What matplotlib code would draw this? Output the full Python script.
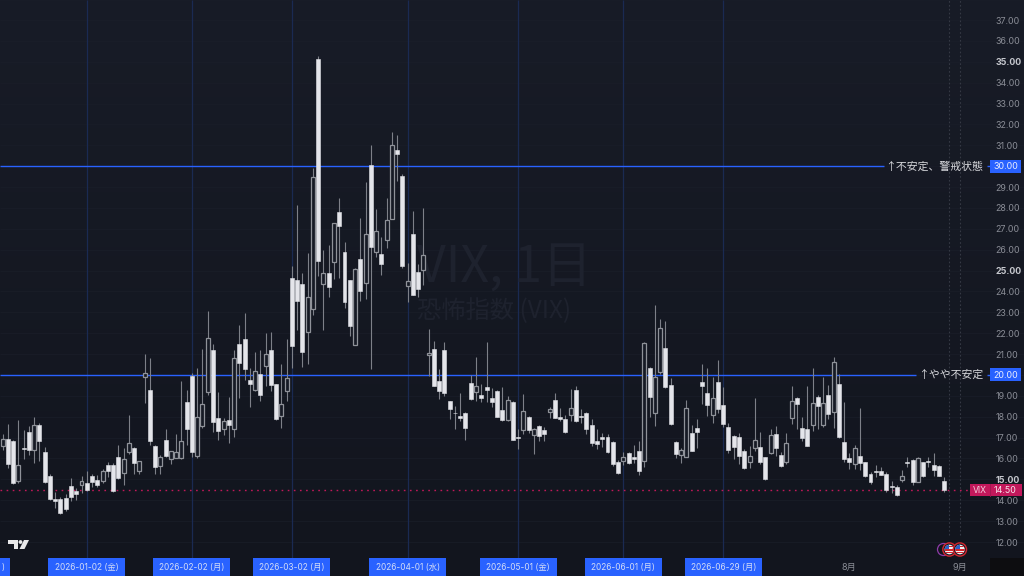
#!/usr/bin/env python3
# VIX daily candles, TradingView dark layout

import numpy as np
import matplotlib
matplotlib.use("Agg")
import matplotlib.pyplot as plt
from matplotlib.patches import Circle, Polygon, Rectangle

plt.rcParams['font.family'] = ['Inter', 'Noto Sans CJK JP', 'DejaVu Sans']
CJK = ['Noto Sans CJK JP', 'DejaVu Sans']

opens = [16.61, 16.93, 16.83, 14.93, 16.50, 17.26, 16.43, 17.58, 16.29, 15.14,
         14.07, 14.07, 14.10, 14.68, 14.44, 14.74, 14.81, 15.14, 14.98, 14.90,
         15.67, 15.67, 16.05, 15.32, 16.29, 16.50, 15.41, 19.88, 19.29, 16.61,
         15.65, 16.87, 15.97, 16.04, 16.00, 18.70, 19.93, 16.14, 17.57, 19.20,
         21.21, 17.94, 17.43, 17.85, 17.41, 21.47, 21.71, 19.78, 19.28, 20.03,
         20.45, 21.21, 19.57, 18.05, 19.25, 24.63, 24.55, 24.37, 22.07, 23.18,
         35.11, 24.36, 24.87, 25.43, 27.82, 25.87, 24.53, 21.45, 25.57, 24.42,
         30.04, 25.89, 25.78, 26.46, 27.48, 30.76, 29.51, 24.28, 26.75, 24.91,
         25.04, 20.95, 21.26, 19.72, 21.19, 18.73, 18.19, 18.05, 18.19, 19.60,
         19.18, 19.05, 19.44, 18.91, 19.24, 18.30, 17.84, 18.70, 17.03, 17.36,
         17.97, 17.14, 17.54, 17.38, 18.22, 18.78, 17.98, 17.87, 18.06, 19.26,
         18.05, 18.19, 17.58, 16.85, 17.03, 17.03, 16.77, 15.81, 15.88, 16.28,
         16.05, 16.34, 15.88, 20.33, 18.17, 20.12, 21.27, 19.52, 16.80, 16.18,
         16.06, 17.21, 17.45, 19.65, 19.13, 18.09, 19.68, 18.58, 17.53, 17.08,
         17.02, 16.38, 15.85, 16.52, 16.56, 16.06, 16.28, 17.19, 16.16, 15.81,
         17.96, 18.90, 17.47, 17.40, 17.62, 18.93, 17.58, 19.05, 18.25, 19.56,
         16.81, 16.03, 15.73, 16.14, 15.82, 15.28, 15.42, 15.41, 15.26, 14.69,
         14.64, 14.96, 15.84, 15.92, 14.88, 15.82, 15.89, 15.69, 15.63, 14.93]

highs = [17.17, 17.65, 16.88, 17.84, 17.36, 17.55, 17.97, 17.68, 16.53, 15.24,
         14.41, 14.14, 14.30, 15.06, 14.57, 15.16, 15.40, 15.25, 15.21, 15.48,
         15.83, 15.80, 16.63, 16.48, 18.08, 16.53, 15.88, 20.98, 20.79, 16.64,
         16.16, 17.39, 16.36, 17.17, 19.72, 19.28, 20.07, 20.32, 21.23, 23.08,
         21.47, 19.17, 17.96, 18.93, 21.20, 22.39, 22.95, 20.32, 21.10, 21.20,
         22.03, 22.06, 19.59, 20.53, 21.71, 25.22, 28.14, 24.87, 25.82, 29.89,
         35.27, 25.98, 26.22, 27.29, 28.46, 26.38, 24.55, 25.11, 27.50, 29.24,
         31.03, 27.93, 26.62, 28.46, 31.62, 31.49, 29.62, 25.35, 27.85, 25.30,
         27.98, 22.18, 21.64, 20.30, 21.59, 18.75, 18.51, 19.12, 18.22, 20.01,
         20.87, 19.55, 21.57, 19.39, 19.28, 19.44, 18.99, 18.75, 17.39, 19.10,
         18.03, 17.47, 17.59, 17.52, 18.48, 19.12, 18.43, 18.08, 19.31, 19.47,
         18.38, 18.21, 17.87, 17.43, 17.23, 17.19, 16.83, 15.91, 16.32, 16.31,
         16.63, 16.82, 21.57, 20.37, 23.37, 22.67, 22.59, 19.87, 16.83, 16.50,
         18.81, 17.61, 17.91, 20.53, 20.32, 19.92, 20.72, 19.41, 17.72, 17.13,
         17.21, 16.44, 16.62, 18.89, 17.26, 16.09, 17.40, 17.56, 16.33, 17.21,
         19.48, 18.93, 17.98, 19.48, 20.32, 19.05, 19.92, 19.52, 20.85, 20.05,
         18.71, 16.28, 16.65, 18.41, 15.85, 15.33, 15.69, 15.61, 15.37, 14.90,
         14.74, 15.45, 16.06, 15.97, 16.09, 15.85, 16.05, 16.28, 15.69, 15.12]

lows = [16.43, 15.54, 14.77, 14.84, 15.96, 16.16, 15.80, 15.89, 14.84, 14.01,
        13.61, 13.34, 13.50, 13.96, 14.01, 14.36, 14.46, 14.65, 14.65, 14.81,
        15.13, 14.41, 15.00, 14.73, 16.21, 15.25, 15.25, 18.64, 16.64, 15.25,
        15.25, 16.05, 15.72, 16.00, 15.97, 16.64, 16.08, 16.04, 17.48, 19.04,
        17.25, 16.89, 17.11, 16.73, 17.05, 18.90, 19.76, 18.48, 19.23, 18.76,
        19.47, 19.23, 17.85, 17.48, 18.76, 20.35, 22.15, 20.40, 20.53, 22.87,
        24.74, 22.15, 23.75, 24.58, 24.66, 23.22, 21.87, 21.44, 23.56, 23.65,
        20.27, 25.63, 24.79, 26.10, 27.47, 29.30, 25.11, 23.51, 23.83, 23.75,
        24.31, 19.95, 19.45, 18.85, 18.97, 17.87, 17.39, 17.79, 16.88, 18.80,
        18.75, 18.70, 18.70, 18.46, 17.98, 17.81, 17.81, 16.87, 16.47, 17.15,
        17.20, 16.20, 16.85, 16.83, 17.92, 17.94, 17.78, 17.20, 17.81, 17.73,
        17.68, 17.15, 16.60, 16.47, 16.56, 16.28, 15.64, 15.24, 15.70, 15.72,
        15.77, 15.19, 15.59, 17.98, 17.55, 20.05, 19.37, 17.62, 16.00, 15.77,
        16.05, 16.35, 16.49, 18.60, 18.02, 17.72, 18.18, 17.50, 16.28, 15.97,
        15.73, 15.52, 15.53, 16.36, 15.74, 14.98, 16.22, 16.12, 15.58, 15.74,
        17.66, 17.42, 16.86, 16.60, 17.31, 17.40, 17.53, 17.88, 17.45, 17.00,
        15.81, 15.52, 15.50, 15.45, 15.09, 14.77, 15.09, 15.20, 14.39, 14.37,
        14.21, 14.88, 15.58, 14.75, 14.85, 15.09, 15.61, 15.14, 15.14, 14.40]

closes = [16.91, 15.73, 14.81, 15.70, 16.47, 16.43, 17.58, 16.83, 14.87, 14.04,
          13.98, 13.40, 13.58, 14.15, 14.31, 14.90, 14.47, 14.87, 14.71, 15.38,
          15.41, 14.44, 15.06, 15.96, 16.72, 15.80, 15.86, 20.07, 16.85, 15.59,
          16.05, 16.10, 16.34, 16.31, 16.85, 17.39, 16.32, 17.99, 18.60, 21.76,
          17.73, 17.33, 17.80, 17.62, 20.80, 20.56, 20.27, 19.57, 20.21, 19.04,
          20.99, 19.52, 17.91, 18.60, 19.84, 21.39, 23.54, 21.12, 23.73, 29.46,
          25.47, 24.90, 24.20, 27.26, 27.15, 23.51, 22.33, 25.06, 24.04, 26.75,
          26.14, 26.91, 25.30, 27.40, 31.03, 30.60, 25.22, 24.52, 23.85, 24.13,
          25.76, 21.06, 19.47, 19.21, 19.12, 18.37, 18.17, 17.94, 17.47, 18.85,
          19.48, 18.91, 19.28, 18.70, 18.00, 17.84, 18.81, 16.90, 16.98, 18.29,
          17.38, 17.43, 17.06, 17.15, 18.38, 17.95, 17.87, 17.25, 18.43, 17.79,
          18.00, 17.43, 16.72, 16.69, 16.95, 16.29, 15.72, 15.30, 16.07, 15.77,
          15.97, 15.38, 21.51, 18.94, 19.88, 22.23, 19.42, 17.65, 16.21, 16.41,
          18.41, 16.38, 17.27, 19.46, 18.58, 18.89, 18.38, 17.64, 16.43, 16.57,
          16.11, 15.53, 16.11, 16.87, 15.81, 15.01, 17.13, 16.49, 15.63, 16.72,
          18.74, 18.63, 16.99, 16.62, 18.68, 18.53, 18.68, 18.15, 20.63, 17.03,
          15.98, 15.84, 16.49, 15.77, 15.14, 14.85, 15.37, 15.23, 14.50, 14.62,
          14.23, 15.15, 15.77, 14.85, 16.01, 15.14, 15.82, 15.45, 15.18, 14.50]

# bar numbers of the dated separators and their labels
date_bars = [16, 36, 55, 77, 98, 118, 137]
date_labels = ["2026-01-02 (金)", "2026-02-02 (月)", "2026-03-02 (月)", "2026-04-01 (水)",
               "2026-05-01 (金)", "2026-06-01 (月)", "2026-06-29 (月)"]
month_bars = [161, 182]
month_labels = ["8月", "9月"]
event_bars = [180, 182]

price_ticks = list(range(12, 38))
bold_ticks = [15, 25, 35]
alert_levels = [30, 20]
alert_labels = ["↑不安定、警戒状態", "↑やや不安定"]
last_price = 14.50

BG = "#161a25"
BLUE = "#2962ff"
WHITE = "#e4e5ea"
GREY = "#7d8088"
PINK = "#c2185b"

# pixel position of bar 0 and bar spacing give the x range, same for prices
bar_px, bar_x0 = 5.26, 2.6
px_per_unit = 20.88
fig = plt.figure(figsize=(10.24, 5.76), dpi=100, facecolor=BG)
ax = fig.add_axes([0, 0, 1, 1], facecolor=BG)
ax.set_xlim(-bar_x0 / bar_px, (1024 - bar_x0) / bar_px)
ax.set_ylim(12 - 34 / px_per_unit, 12 + 542 / px_per_unit)

# slightly darker towards the bottom
grad = np.linspace(0, 1, 256).reshape(-1, 1)
cmap = matplotlib.colors.LinearSegmentedColormap.from_list("bg", ["#181c27", "#12151e"])
ax.imshow(grad, extent=(*ax.get_xlim(), *ax.get_ylim()), aspect="auto", cmap=cmap, zorder=0)

ax.hlines(price_ticks, *ax.get_xlim(), color="#1a1e29", lw=0.5, zorder=1)
bottom_y = 12 - 16 / px_per_unit
ax.vlines(date_bars, bottom_y, ax.get_ylim()[1], color="#1a2a52", lw=0.9, zorder=1)
ax.vlines(event_bars, 12 + 0.35, ax.get_ylim()[1], color="#353944", lw=0.8,
          linestyles=(0, (1.5, 2)), zorder=1)

# watermark, sits under the candles
ax.text(95.5, 25.1, "VIX, 1日", color="#1e222e", fontsize=36, ha="center", va="center",
        family=CJK, zorder=1.5)
ax.text(93.5, 23.05, "恐怖指数 (VIX)", color="#1e222e", fontsize=17.5, ha="center", va="center",
        family=CJK, zorder=1.5)

# alert lines
ax.hlines(alert_levels[0], ax.get_xlim()[0], 167.5, color=BLUE, lw=1.0, zorder=2)
ax.hlines(alert_levels[1], ax.get_xlim()[0], 173.7, color=BLUE, lw=1.0, zorder=2)
ax.hlines(alert_levels[0], 187.2, 188.2, color=BLUE, lw=1.0, zorder=2)
ax.hlines(alert_levels[1], 187.2, 188.2, color=BLUE, lw=1.0, zorder=2)
ax.hlines(last_price, ax.get_xlim()[0], 184, color=PINK, lw=1.0, linestyles=(0, (1.2, 3.2)), zorder=2)

# candles
o, h, l, c = map(np.array, (opens, highs, lows, closes))
x = np.arange(len(o))
up = c >= o
ax.vlines(x, l, h, color=GREY, lw=0.8, zorder=3)
ax.bar(x[~up], (o - c)[~up], bottom=c[~up], width=0.76, color=WHITE, edgecolor=WHITE, lw=0.4, zorder=4)
ax.bar(x[up], (c - o)[up], bottom=o[up], width=0.76, color=BG, edgecolor="#8f9299", lw=0.9, zorder=4)

# price scale, the alert levels get their own boxed labels below
ax.yaxis.tick_right()
ax.set_yticks(price_ticks)
ax.set_yticklabels(["" if t in alert_levels else f"{t:.2f}" for t in price_ticks])
ax.tick_params(axis="y", length=0, pad=-20.4, labelsize=6.4, labelcolor="#8a8d96")
for lab, t in zip(ax.get_yticklabels(), price_ticks):
    if t in bold_ticks:
        lab.set_color("#c6c8ce")
        lab.set_fontweight("bold")
ax.set_xticks([])
for s in ax.spines.values():
    s.set_visible(False)

# overlay in plain pixels for the tv chrome
ov = fig.add_axes([0, 0, 1, 1], facecolor="none")
ov.set_xlim(0, 1024)
ov.set_ylim(576, 0)
ov.axis("off")


def to_px(bar):
    return bar_x0 + bar_px * bar


def to_py(price):
    return 542 - (price - 12) * px_per_unit


for bar, label in zip(date_bars, date_labels):
    cx = to_px(bar)
    ov.add_patch(Rectangle((cx - 38.5, 558), 77, 18, color=BLUE, lw=0))
    ov.text(cx, 570, label, color="#d3dcf7", fontsize=6.0, ha="center", va="baseline")
ov.add_patch(Rectangle((0, 558), 10, 18, color=BLUE, lw=0))
ov.text(3, 570, ")", color="#d3dcf7", fontsize=6.0, ha="center", va="baseline")

for bar, label in zip(month_bars, month_labels):
    ov.text(to_px(bar) - 0.5, 570, label, color="#8a8d96", fontsize=6.6, ha="center", va="baseline")
ov.add_patch(Rectangle((990, 558), 34, 18, color="#0d0d10", lw=0))

for level, label in zip(alert_levels, alert_labels):
    py = to_py(level)
    ov.add_patch(Rectangle((990, py - 6.5), 31, 13, color=BLUE, lw=0))
    ov.text(1005.5, py + 0.3, f"{level:.2f}", color="#e8edff", fontsize=6.4, ha="center", va="center")
    ov.text(983.5, py, label, color="#d7d8dc", fontsize=7.8, ha="right", va="center", family=CJK)

py = to_py(last_price)
ov.add_patch(Rectangle((970, py - 6), 52, 12, color=PINK, lw=0))
ov.plot([989.5, 989.5], [py - 6, py + 6], color="#a01550", lw=0.6)
ov.text(979.5, py + 0.3, "VIX", color="#f3cfdd", fontsize=6.2, ha="center", va="center")
ov.text(1005.5, py + 0.3, f"{last_price:.2f}", color="#f7e3eb", fontsize=6.4, ha="center", va="center")

# tradingview logo
ov.add_patch(Polygon([(8, 540), (18, 540), (18, 549), (13.5, 549), (13.5, 544), (8, 544)], color="#e8e8ea", lw=0))
ov.add_patch(Circle((20.5, 542), 1.9, color="#e8e8ea", lw=0))
ov.add_patch(Polygon([(24, 540), (29, 540), (24.5, 549), (19.5, 549)], color="#e8e8ea", lw=0))

# calendar event flags
ov.add_patch(Circle((943.5, 549.5), 6, fc="none", ec="#8e3aa8", lw=0.9))
for cx in (to_px(event_bars[0]), to_px(event_bars[1])):
    ov.add_patch(Circle((cx, 549.5), 6.6, fc="#161a25", ec="#d3262f", lw=1.0))
    flag = Circle((cx, 549.5), 4.8, fc="#f1f1f3", lw=0)
    ov.add_patch(flag)
    for sy in (546.2, 549.4, 552.2):
        stripe = Rectangle((cx - 4.8, sy), 9.6, 1.2, color="#d3262f", lw=0)
        ov.add_patch(stripe)
        stripe.set_clip_path(flag)
    canton = Rectangle((cx - 4.8, 544.7), 4.6, 4.1, color="#2f5fc4", lw=0)
    ov.add_patch(canton)
    canton.set_clip_path(flag)

fig.savefig("out.png", dpi=100, facecolor=BG)
